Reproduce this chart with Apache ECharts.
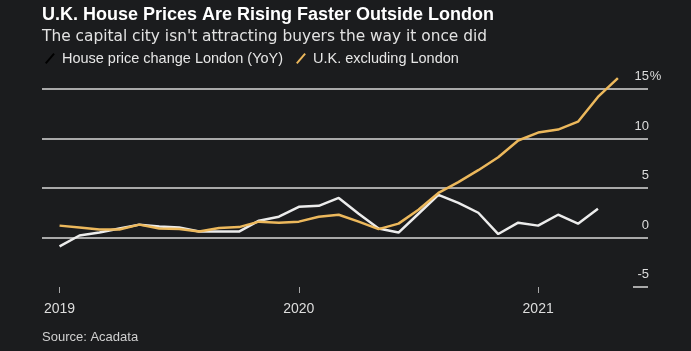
<!DOCTYPE html>
<html>
<head>
<meta charset="utf-8">
<script src="https://cdn.jsdelivr.net/npm/echarts@6/dist/echarts.min.js"></script>
<style>
  html, body { margin: 0; padding: 0; background: #1b1c1e; }
  #chart { width: 691px; height: 351px; }
</style>
</head>
<body>
<div id="chart"></div>
<script>
// monthly points, Jan 2019 onwards (index 0 = Jan 2019)
const londonYoY = [-0.9, 0.2, 0.5, 0.9, 1.3, 1.1, 1.0, 0.6, 0.6, 0.6, 1.7, 2.1,
  3.1, 3.2, 4.0, 2.4, 0.9, 0.5, 2.4, 4.3, 3.5, 2.5, 0.35, 1.5,
  1.2, 2.3, 1.4, 2.9]
const ukExLondon = [1.2, 1.0, 0.8, 0.8, 1.3, 0.9, 0.85, 0.6, 0.95, 1.05, 1.6, 1.5,
  1.6, 2.1, 2.3, 1.6, 0.85, 1.4, 2.8, 4.5, 5.6, 6.8, 8.1, 9.8,
  10.6, 10.9, 11.7, 14.2, 16.1]
const yearTicks = [0, 12, 24]
const yearLabels = ['2019', '2020', '2021']

const seriesNames = ['House price change London (YoY)', 'U.K. excluding London']
const font = 'Liberation Sans, Arial, sans-serif'
const gridColor = '#a9a9a9'
const gold = '#ecb85c'
const white = '#ececec'
const slash = 'path://M0,10 L8.5,0 L10,1.2 L1.5,11.2 Z'

const toPairs = (arr) => arr.map((v, i) => [i, v])

const chart = echarts.init(document.getElementById('chart'))

const options = {
  backgroundColor: '#1b1c1e',
  animation: false,
  textStyle: { fontFamily: font },
  title: {
    text: 'U.K. House Prices Are Rising Faster Outside London',
    subtext: "The capital city isn't attracting buyers the way it once did",
    left: 37,
    top: 1,
    itemGap: 5,
    textStyle: { color: '#ffffff', fontSize: 18, fontWeight: 'bold', fontFamily: font },
    subtextStyle: { color: '#e2e2e2', fontSize: 15.4, fontFamily: 'DejaVu Sans, sans-serif' }
  },
  legend: {
    left: 40,
    top: 46,
    itemWidth: 10,
    itemHeight: 11,
    itemGap: 13,
    textStyle: { color: '#e6e6e6', fontSize: 14.5, fontFamily: font, padding: [0, 0, 0, 2] },
    data: [
      { name: seriesNames[0], icon: slash, itemStyle: { color: '#000000' } },
      { name: seriesNames[1], icon: slash, itemStyle: { color: gold } }
    ]
  },
  grid: {
    left: 42,
    right: 43,
    top: 89,
    bottom: 64
  },
  xAxis: {
    type: 'value',
    min: -0.88,
    max: 29.51,
    axisLine: { show: false, onZero: false },
    splitLine: { show: false },
    axisTick: {
      show: true,
      length: 6,
      customValues: yearTicks,
      lineStyle: { color: gridColor, width: 1 }
    },
    axisLabel: {
      customValues: yearTicks,
      color: '#dddddd',
      fontSize: 14,
      margin: 15,
      formatter: (v) => yearLabels[yearTicks.indexOf(Math.round(v))] || ''
    }
  },
  yAxis: {
    type: 'value',
    position: 'right',
    min: -5,
    max: 15,
    interval: 5,
    axisLine: { show: false, onZero: false },
    axisTick: {
      show: true,
      inside: true,
      length: 15,
      lineStyle: { color: gridColor, width: 2 }
    },
    splitLine: {
      show: true,
      showMinLine: false,
      lineStyle: { color: gridColor, width: 2 }
    },
    axisLabel: {
      inside: false,
      align: 'right',
      verticalAlign: 'bottom',
      margin: 14,
      padding: [0, 0, 6, 0],
      formatter: (v) => v === 15 ? '{v|15}{s|%}' : '{v|' + v + '}{s| }',
      rich: {
        v: { color: '#dddddd', fontSize: 13, fontFamily: font },
        s: { color: '#dddddd', fontSize: 13, fontFamily: font, width: 13, align: 'left' }
      }
    }
  },
  series: [
    {
      name: seriesNames[0],
      type: 'line',
      data: toPairs(londonYoY),
      symbol: 'none',
      clip: false,
      lineStyle: { color: white, width: 2.5 },
      itemStyle: { color: white }
    },
    {
      name: seriesNames[1],
      type: 'line',
      data: toPairs(ukExLondon),
      symbol: 'none',
      clip: false,
      lineStyle: { color: gold, width: 2.5 },
      itemStyle: { color: gold }
    }
  ],
  graphic: [
    {
      type: 'text',
      left: 42,
      top: 331,
      style: { text: 'Source: Acadata', fill: '#d0d0d0', fontSize: 13, fontFamily: font }
    }
  ]
}

chart.setOption(options)
</script>
</body>
</html>
